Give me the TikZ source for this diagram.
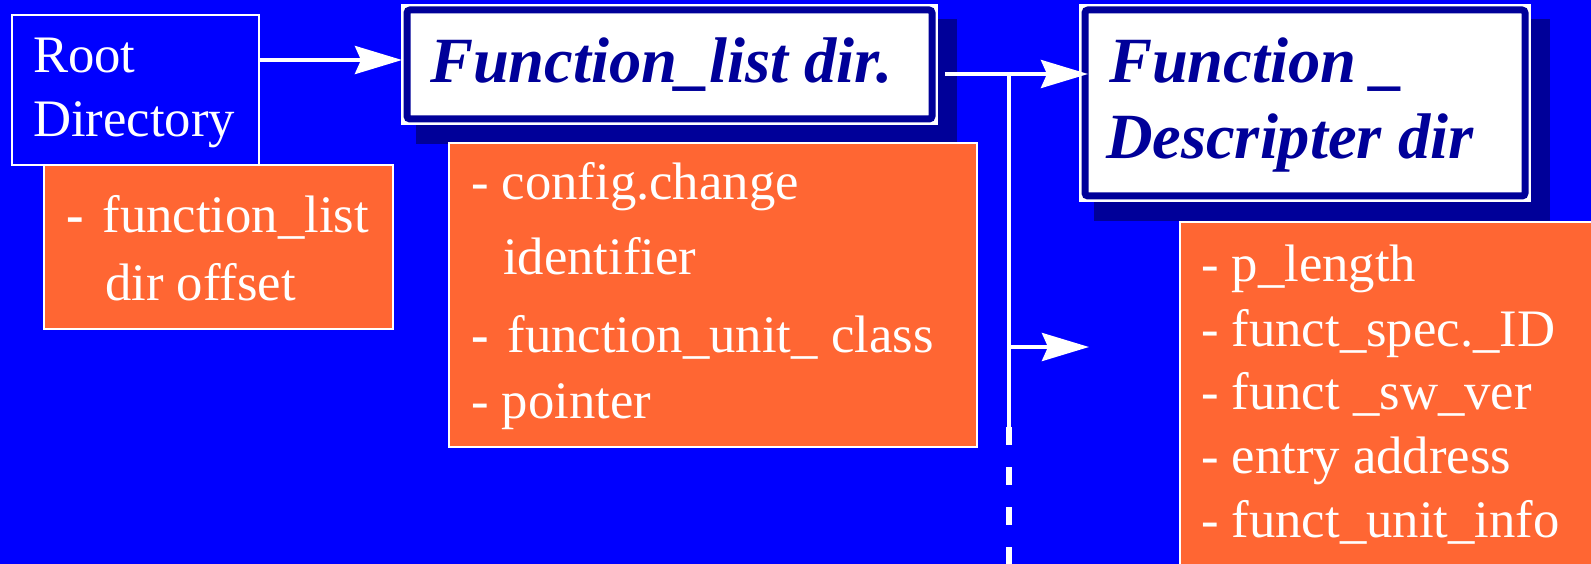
\documentclass[tikz,border=0pt]{standalone}
\usepackage{fontspec}
\setmainfont{Liberation Serif}
\usetikzlibrary{arrows.meta,calc}
\definecolor{bgblue}{RGB}{0,0,255}
\definecolor{navy}{RGB}{0,0,153}
\definecolor{infoorange}{RGB}{255,102,51}
\pgfdeclarelayer{bg}
\pgfdeclarelayer{shadows}
\pgfsetlayers{bg,shadows,main}

\begin{document}
\begin{tikzpicture}[x=1pt,y=-1pt,
  box/.style={rectangle,inner sep=0pt,outer sep=0pt,draw=white,line width=1.5pt,anchor=north west},
  plainbox/.style={box,fill=bgblue},
  infobox/.style={box,fill=infoorange},
  titlebox/.style={box,fill=white,line width=2pt},
  frame/.style={draw=navy,line width=7pt,rounded corners=3pt},
  shadowbox/.style={fill=navy},
  bodytext/.style={anchor=base west,inner sep=0pt,outer sep=0pt,text=white,font=\fontsize{52.7}{60}\selectfont},
  titletext/.style={anchor=base west,inner sep=0pt,outer sep=0pt,text=navy,font=\fontsize{64.5}{70}\selectfont\bfseries\itshape},
  conn/.style={draw=white,line width=4pt,-{Stealth[length=47pt,width=28pt,inset=6pt]}},
  branch/.style={draw=white,line width=4pt},
  branchdash/.style={draw=white,line width=6pt,dash pattern=on 18pt off 22pt},
]
\useasboundingbox (0,0) rectangle (1591,564);
\begin{pgfonlayer}{bg}
  \fill[bgblue] (0,0) rectangle (1591,564);
\end{pgfonlayer}
\clip (0,0) rectangle (1591,564);

% directory boxes
\node[plainbox,minimum width=247pt,minimum height=150pt] (root) at (12,15) {};
\node[titlebox,minimum width=535pt,minimum height=119pt] (flist) at (402,5) {};
\node[titlebox,minimum width=450pt,minimum height=196pt] (fdesc) at (1080,5) {};

% navy frames inside the title boxes
\draw[frame] ([shift={(5,5)}]flist.north west) rectangle ([shift={(-5,-5)}]flist.south east);
\draw[frame] ([shift={(5,5)}]fdesc.north west) rectangle ([shift={(-5,-5)}]fdesc.south east);

% drop shadows
\begin{pgfonlayer}{shadows}
  \fill[shadowbox] ([shift={(14,14)}]flist.north west) rectangle ([shift={(20,20)}]flist.south east);
  \fill[shadowbox] ([shift={(14,14)}]fdesc.north west) rectangle ([shift={(20,20)}]fdesc.south east);
\end{pgfonlayer}

% field lists
\node[infobox,minimum width=349pt,minimum height=164pt] (info1) at (44,165) {};
\node[infobox,minimum width=528pt,minimum height=304pt] (info2) at (449,143) {};
\node[infobox,minimum width=430pt,minimum height=360pt] (info3) at (1180,222) {};

% titles
\node[bodytext] (r1) at (33,73) {Root};
\node[bodytext] (r2) at (33,137) {Directory};
\node[titletext] (ft) at (430,83) {Function\_list dir.};
\node[titletext] (dt1) at (1109,83) {Function \_};
\node[titletext] (dt2) at (1106,159) {Descripter dir};

% field texts
\node[bodytext] (i1a) at (66,233) {\textbf{-}\hspace{19pt}function\_list};
\node[bodytext] (i1b) at (105,300) {dir offset};

\node[bodytext] (i2a) at (471,200) {- config.change};
\node[bodytext] (i2b) at (503,275) {identifier};
\node[bodytext] (i2c) at (471,352) {\textbf{-}\hspace{19pt}function\_unit\_ class};
\node[bodytext] (i2d) at (471,418) {- pointer};

\node[bodytext] (i3a) at (1201,282) {- p\_length};
\node[bodytext] (i3b) at (1201,346) {- funct\_spec.\_ID};
\node[bodytext] (i3c) at (1201,409) {- funct \_sw\_ver};
\node[bodytext] (i3d) at (1201,473) {- entry address};
\node[bodytext] (i3e) at (1201,537) {- funct\_unit\_info};

% connectors
\coordinate (a1s) at ([shift={(0,45)}]root.north east);
\draw[conn] (a1s) -- (flist.west |- a1s);

\coordinate (a2s) at ([shift={(8,69)}]flist.north east);
\coordinate (brtop) at ($(a2s)+(64,0)$);
\coordinate (a3s) at ($(brtop)+(0,273)$);
\coordinate (a3e) at ($(a3s)+(80,0)$);
\coordinate (brsplit) at ($(brtop)+(0,353)$);
\coordinate (brend) at ($(brtop)+(0,500)$);

\draw[branch] (brtop) -- (brsplit);
\draw[branchdash] (brsplit) -- (brend);
\draw[conn] (a2s) -- ($(fdesc.west |- a2s)+(8,0)$);
\draw[conn] (a3s) -- (a3e);
\end{tikzpicture}
\end{document}
